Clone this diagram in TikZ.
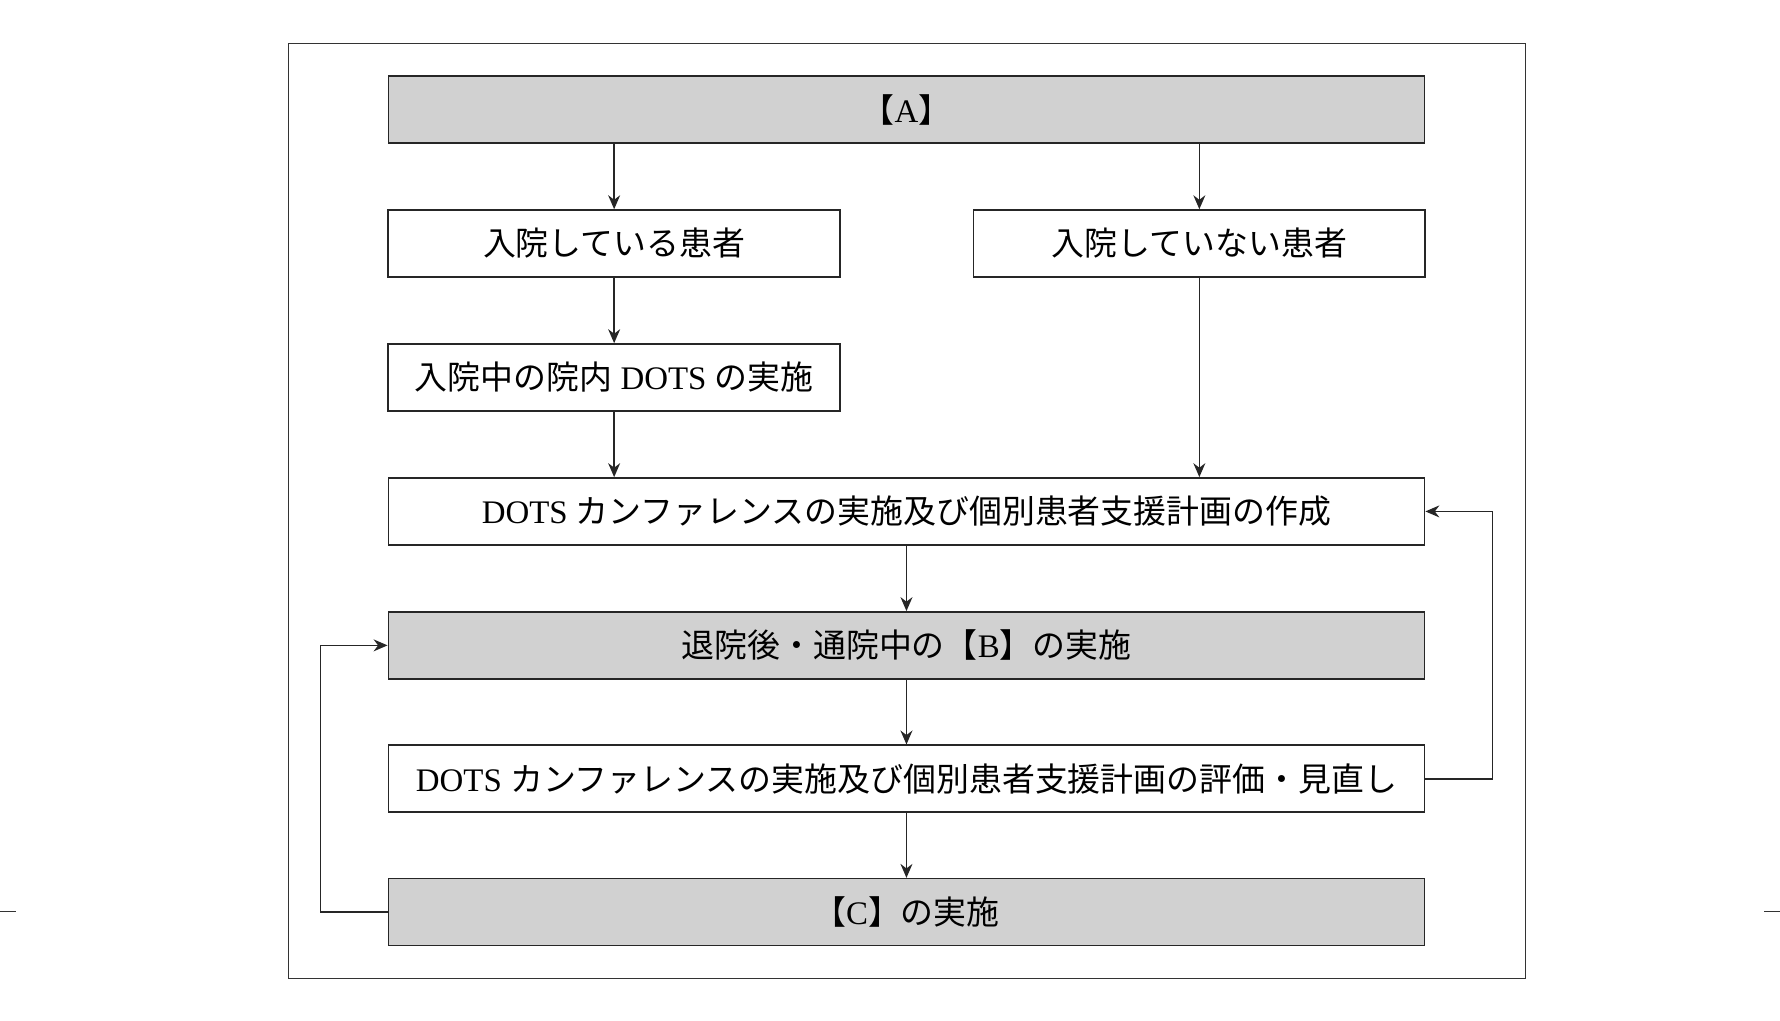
\documentclass[tikz,border=0pt]{standalone}
\usepackage{fontspec}
\setmainfont{Liberation Serif}
\newfontfamily\cjk{Noto Sans CJK JP}
\usetikzlibrary{arrows.meta}
\tikzset{
  box/.style={draw=black!85,line width=0.8pt,minimum height=1.18cm,inner sep=0pt,
    font=\fontsize{16.5}{20}\selectfont},
  wide/.style={box,minimum width=18.26cm},
  half/.style={box,minimum width=7.96cm},
  shade/.style={fill=black!18},
  flow/.style={draw=black!85,line width=0.8pt,-{Stealth[length=7pt,width=6pt]}}
}
\begin{document}
\begin{tikzpicture}[x=0.02cm,y=-0.02cm]
\useasboundingbox (0,0) rectangle (1568,899);
\draw[line width=0.6pt,black!80] (254,38) rectangle (1344,862);
\draw[line width=0.6pt,black!80] (0,803) -- (14,803) (1554,803) -- (1568,803);
% boxes
\node[wide,shade] (a) at (798.5,96.5) {{\cjk 【}A{\cjk 】}};
\node[half] (inp) at (541,214.5) {\cjk 入院している患者};
\node[half] (outp) at (1056.5,214.5) {\cjk 入院していない患者};
\node[half] (dots) at (541,332.5) {{\cjk 入院中の院内} DOTS {\cjk の実施}};
\node[wide] (conf) at (798.5,450.5) {DOTS {\cjk カンファレンスの実施及び個別患者支援計画の作成}};
\node[wide,shade] (b) at (798.5,568.5) {{\cjk 退院後・通院中の【}B{\cjk 】の実施}};
\node[wide] (eval) at (798.5,686) {DOTS {\cjk カンファレンスの実施及び個別患者支援計画の評価・見直し}};
\node[wide,shade] (c) at (798.5,803.5) {{\cjk 【}C{\cjk 】の実施}};
% connectors
\draw[flow] (a.south -| inp.north) -- (inp.north);
\draw[flow] (a.south -| outp.north) -- (outp.north);
\draw[flow] (inp) -- (dots);
\draw[flow] (dots.south) -- (dots.south |- conf.north);
\draw[flow] (outp.south) -- (outp.south |- conf.north);
\draw[flow] (conf) -- (b);
\draw[flow] (b) -- (eval);
\draw[flow] (eval) -- (c);
\draw[flow] (eval.east) -- ++(59,0) |- (conf.east);
\draw[flow] (c.west) -- ++(-59,0) |- (b.west);
\end{tikzpicture}
\end{document}
